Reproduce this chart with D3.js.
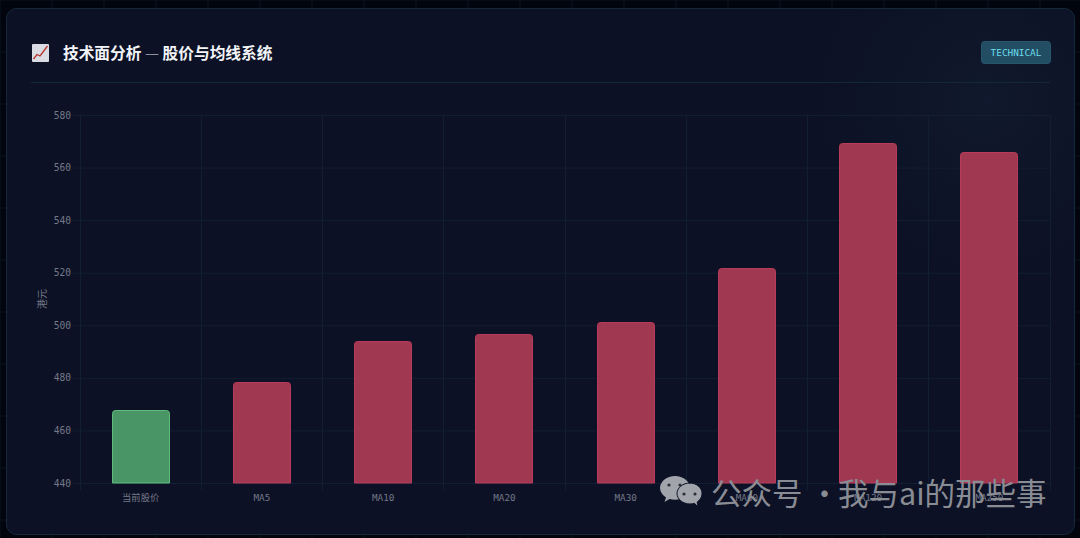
<!DOCTYPE html>
<html><head><meta charset="utf-8">
<script src="https://cdn.jsdelivr.net/npm/d3@7/dist/d3.min.js"></script>
<style>html,body{margin:0;padding:0;background:#03050e;overflow:hidden}svg{display:block}</style>
</head><body><svg id="c" width="1080" height="538"></svg>
<script>
const categories=["当前股价","MA5","MA10","MA20","MA30","MA60","MA120","MA250"];
const prices=[467.6,478.3,494.0,496.5,501.1,521.8,569.3,565.8];
const kinds=["up","down","down","down","down","down","down","down"];
const yTicks=[440,460,480,500,520,540,560,580];
const titleHead="技术面分析 ";
const titleDash="—";
const titleTail=" 股价与均线系统";
const badgeText="TECHNICAL";
const yLabel="港元";
const watermarkParts=["公众号"," · ","我与ai的那些事"];
const mono="'DejaVu Sans Mono','Liberation Mono',monospace";
const cjk="'Noto Sans CJK SC','Noto Sans',sans-serif";
const svg=d3.select("#c");
const defs=svg.append("defs");
const glow=defs.append("radialGradient").attr("id","glow").attr("gradientUnits","userSpaceOnUse").attr("cx",985).attr("cy",100).attr("r",170);
glow.append("stop").attr("offset",0).attr("stop-color","#1a2a40").attr("stop-opacity",.3);
glow.append("stop").attr("offset",1).attr("stop-color","#1a2a40").attr("stop-opacity",0);
const bg=svg.append("g");
bg.selectAll("line.v").data(d3.range(0,1081,52)).join("line").attr("x1",d=>d).attr("x2",d=>d).attr("y1",0).attr("y2",538).attr("stroke","#091320").attr("stroke-width",1);
bg.selectAll("line.h").data(d3.range(0,539,52)).join("line").attr("y1",d=>d).attr("y2",d=>d).attr("x1",0).attr("x2",1080).attr("stroke","#091320").attr("stroke-width",1);
svg.append("rect").attr("x",6.5).attr("y",8.5).attr("width",1068).attr("height",526).attr("rx",10).attr("fill","#0c1125").attr("stroke","#14293b");
svg.append("rect").attr("x",7).attr("y",9).attr("width",1067).attr("height",525).attr("rx",10).attr("fill","url(#glow)");
const icon=svg.append("g").attr("transform","translate(32,44)");
icon.append("rect").attr("width",17).attr("height",18).attr("rx",1).attr("fill","#d9dce2");
icon.append("path").attr("d","M1.5 15 L5 10.5 L8 12 L11 8 L15.5 2").attr("fill","none").attr("stroke","#b8372f").attr("stroke-width",1.3);
const title=svg.append("text").attr("x",63).attr("y",59).attr("font-family",cjk).attr("font-size",15.7).attr("font-weight",700).attr("fill","#f2f4f8").style("white-space","pre");
title.append("tspan").text(titleHead);
title.append("tspan").attr("fill","#8b90a0").attr("font-weight",400).text(titleDash);
title.append("tspan").text(titleTail);
svg.append("rect").attr("x",981.5).attr("y",41.5).attr("width",69).attr("height",22).attr("rx",3).attr("fill","#234d63").attr("stroke","#26566c");
svg.append("text").attr("x",1016).attr("y",55.5).attr("text-anchor","middle").attr("font-family",mono).attr("font-size",9.4).attr("fill","#6adcec").text(badgeText);
svg.append("line").attr("x1",31).attr("x2",1050).attr("y1",82.5).attr("y2",82.5).attr("stroke","#13273a");
const x=d3.scaleBand().domain(categories).range([80,1050]);
const y=d3.scaleLinear().domain([440,580]).range([483,115]);
const gridColor="#121f33";
const yA=svg.append("g").attr("transform","translate(80,0)").call(d3.axisLeft(y).tickValues(yTicks).tickSize(7).tickPadding(2));
yA.select(".domain").remove();
yA.selectAll("line").attr("stroke",gridColor).attr("x2",970).attr("x1",-7);
yA.selectAll("text").attr("font-family",mono).attr("font-size",9.6).attr("fill","#747887");
const vEdges=categories.map(c=>x(c)).concat([1050]);
svg.append("g").selectAll("line").data(vEdges).join("line").attr("x1",d=>Math.floor(d)+.5).attr("x2",d=>Math.floor(d)+.5).attr("y1",115).attr("y2",490).attr("stroke",gridColor);
const xA=svg.append("g").attr("transform","translate(0,483)").call(d3.axisBottom(x).tickSize(0).tickPadding(11));
xA.select(".domain").remove();
xA.selectAll("text").attr("font-size",9.3).attr("fill","#747887").style("font-family",d=>d==="当前股价"?cjk:mono);
svg.append("text").attr("transform","translate(46,299) rotate(-90)").attr("text-anchor","middle").attr("font-family",cjk).attr("font-size",10).attr("fill","#747887").text(yLabel);
const colors={up:{f:"#4a9566",s:"#5fbd7b"},down:{f:"#a03852",s:"#b93a59"}};
const bw=58;
svg.append("g").selectAll("path").data(categories).join("path")
 .attr("d",(c,i)=>{const x0=Math.round(x(c)+x.bandwidth()/2-bw/2)+.5,x1=x0+bw-1,t=Math.round(y(prices[i]))+.5,b=y(440),r=3;
   return `M${x0} ${b}V${t+r}Q${x0} ${t} ${x0+r} ${t}H${x1-r}Q${x1} ${t} ${x1} ${t+r}V${b}Z`;})
 .attr("fill",(c,i)=>colors[kinds[i]].f)
 .attr("stroke",(c,i)=>colors[kinds[i]].s).attr("stroke-width",1);
const wm=svg.append("g");
wm.append("path").attr("fill","#a2a4ab").attr("d","M675 476c-8 0-15 5.500-15 12 0 4 2.500 7 6 9.500l-1.500 4.500 5-3c2 .5 3.500 .8 5.500 .8 8 0 15-5.500 15-12s-7-11.800-15-11.800z");
wm.append("path").attr("fill","#a2a4ab").attr("d","M690 483c-7 0-13 4.700-13 10.500s6 10.500 13 10.500c1.500 0 3-.3 4.500-.7l3.500 3.700-.8-5c3-2 4.800-5 4.800-8.500 0-5.800-5.500-10.500-12.500-10.500z").attr("stroke","#0c1125").attr("stroke-width",1);
wm.selectAll("circle").data([[669,485],[680,485],[684,494],[695,494]]).join("circle").attr("cx",d=>d[0]).attr("cy",d=>d[1]).attr("r",1.6).attr("fill","#2a2d3a");
const wmText=wm.append("text").attr("y",505).attr("font-family",cjk).attr("font-size",30.5).attr("font-weight",400).attr("fill","#8a8c94").style("white-space","pre");
wmText.selectAll("tspan").data(watermarkParts).join("tspan").attr("x",(d,i)=>[711,null,838][i]).text(d=>d);
</script></body></html>
